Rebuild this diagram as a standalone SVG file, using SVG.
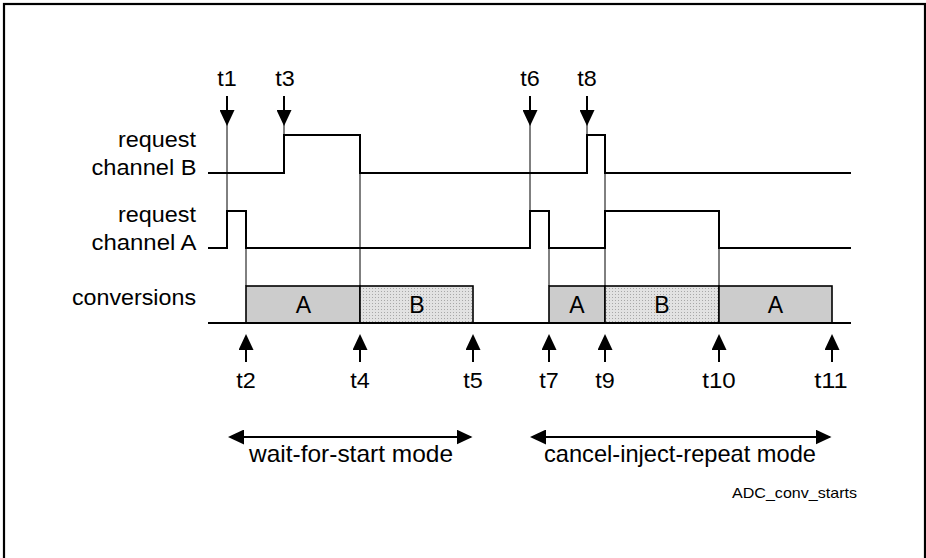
<svg xmlns="http://www.w3.org/2000/svg" width="926" height="558" viewBox="0 0 926 558">
<style>
.t{font-family:"Liberation Sans",Arial,sans-serif;font-size:22px;fill:#000}
.m{font-family:"Liberation Sans",Arial,sans-serif;font-size:24px;fill:#000}
.b{font-family:"Liberation Sans",Arial,sans-serif;font-size:23px;fill:#000}
.s{font-family:"Liberation Sans",Arial,sans-serif;font-size:14.5px;fill:#000}
.sig{fill:none;stroke:#000;stroke-width:2;stroke-linejoin:miter}
.thin{stroke:#000;stroke-width:1;fill:none}
.arr{stroke:#000;stroke-width:2;fill:none}
.boxA{fill:#cccccc;stroke:#000;stroke-width:1.6}
.boxB{fill:url(#dots);stroke:#000;stroke-width:1.6}
</style>
<defs>
<pattern id="dots" width="3" height="3" patternUnits="userSpaceOnUse">
<rect width="3" height="3" fill="#e2e2e2"/>
<rect width="1" height="1" fill="#a8a8a8"/>
</pattern>
<marker id="ah" viewBox="0 0 16 15" refX="14" refY="7.5" markerWidth="16" markerHeight="15" markerUnits="userSpaceOnUse" orient="auto-start-reverse">
<path d="M0,0 L16,7.5 L0,15 z" fill="#000"/>
</marker>
</defs>
<rect x="4" y="4" width="921" height="600" fill="#fff" stroke="#000" stroke-width="2.2"/>

<g id="labels">
<text class="t" x="196" y="147" text-anchor="end" textLength="78" lengthAdjust="spacingAndGlyphs">request</text>
<text class="t" x="196.5" y="175" text-anchor="end" textLength="105" lengthAdjust="spacingAndGlyphs">channel B</text>
<text class="t" x="196" y="222" text-anchor="end" textLength="78" lengthAdjust="spacingAndGlyphs">request</text>
<text class="t" x="196.5" y="250" text-anchor="end" textLength="105" lengthAdjust="spacingAndGlyphs">channel A</text>
<text class="t" x="196" y="305" text-anchor="end" textLength="124" lengthAdjust="spacingAndGlyphs">conversions</text>
</g>

<g id="signal-B">
<polyline class="sig" points="208,173 284,173 284,135 360,135 360,173 587,173 587,135 605,135 605,173 851,173"/>
</g>
<g id="signal-A">
<polyline class="sig" points="208,248 227,248 227,211 246,211 246,248 530,248 530,211 549,211 549,248 605,248 605,211 719,211 719,248 851,248"/>
</g>

<g id="conversions">
<rect class="boxA" x="246" y="286" width="114" height="37"/>
<rect class="boxB" x="360" y="286" width="113" height="37"/>
<rect class="boxA" x="549" y="286" width="56" height="37"/>
<rect class="boxB" x="605" y="286" width="114" height="37"/>
<rect class="boxA" x="719" y="286" width="113" height="37"/>
<line x1="208" y1="323" x2="851" y2="323" stroke="#000" stroke-width="2"/>
<text class="b" x="303.5" y="313" text-anchor="middle">A</text>
<text class="b" x="417" y="313" text-anchor="middle">B</text>
<text class="b" x="577" y="313" text-anchor="middle">A</text>
<text class="b" x="662" y="313" text-anchor="middle">B</text>
<text class="b" x="775.5" y="313" text-anchor="middle">A</text>
</g>

<g id="connectors">
<line class="thin" x1="227" y1="120" x2="227" y2="211"/>
<line class="thin" x1="284" y1="120" x2="284" y2="135"/>
<line class="thin" x1="530" y1="120" x2="530" y2="211"/>
<line class="thin" x1="587" y1="120" x2="587" y2="135"/>
<line class="thin" x1="246" y1="248" x2="246" y2="286"/>
<line class="thin" x1="360" y1="173" x2="360" y2="286"/>
<line class="thin" x1="549" y1="248" x2="549" y2="286"/>
<line class="thin" x1="605" y1="173" x2="605" y2="211"/>
<line class="thin" x1="605" y1="248" x2="605" y2="286"/>
<line class="thin" x1="719" y1="248" x2="719" y2="286"/>
<line class="arr" x1="227" y1="96" x2="227" y2="124" marker-end="url(#ah)"/>
<line class="arr" x1="284" y1="96" x2="284" y2="124" marker-end="url(#ah)"/>
<line class="arr" x1="530" y1="96" x2="530" y2="124" marker-end="url(#ah)"/>
<line class="arr" x1="587" y1="96" x2="587" y2="124" marker-end="url(#ah)"/>
<line class="arr" x1="246" y1="362" x2="246" y2="336" marker-end="url(#ah)"/>
<line class="arr" x1="360" y1="362" x2="360" y2="336" marker-end="url(#ah)"/>
<line class="arr" x1="473" y1="362" x2="473" y2="336" marker-end="url(#ah)"/>
<line class="arr" x1="549" y1="362" x2="549" y2="336" marker-end="url(#ah)"/>
<line class="arr" x1="605" y1="362" x2="605" y2="336" marker-end="url(#ah)"/>
<line class="arr" x1="719" y1="362" x2="719" y2="336" marker-end="url(#ah)"/>
<line class="arr" x1="832" y1="362" x2="832" y2="336" marker-end="url(#ah)"/>
<line class="arr" x1="230" y1="437" x2="470.5" y2="437" marker-start="url(#ah)" marker-end="url(#ah)"/>
<line class="arr" x1="532" y1="437" x2="829.5" y2="437" marker-start="url(#ah)" marker-end="url(#ah)"/>
</g>

<g id="time-labels">
<text class="t" x="227" y="86" text-anchor="middle" textLength="19.5" lengthAdjust="spacingAndGlyphs">t1</text>
<text class="t" x="285" y="86" text-anchor="middle" textLength="19.5" lengthAdjust="spacingAndGlyphs">t3</text>
<text class="t" x="530" y="86" text-anchor="middle" textLength="19.5" lengthAdjust="spacingAndGlyphs">t6</text>
<text class="t" x="587" y="86" text-anchor="middle" textLength="19.5" lengthAdjust="spacingAndGlyphs">t8</text>
<text class="t" x="246" y="388" text-anchor="middle" textLength="19.5" lengthAdjust="spacingAndGlyphs">t2</text>
<text class="t" x="360" y="388" text-anchor="middle" textLength="19.5" lengthAdjust="spacingAndGlyphs">t4</text>
<text class="t" x="473" y="388" text-anchor="middle" textLength="19.5" lengthAdjust="spacingAndGlyphs">t5</text>
<text class="t" x="549" y="388" text-anchor="middle" textLength="19.5" lengthAdjust="spacingAndGlyphs">t7</text>
<text class="t" x="605" y="388" text-anchor="middle" textLength="19.5" lengthAdjust="spacingAndGlyphs">t9</text>
<text class="t" x="719" y="388" text-anchor="middle" textLength="33.5" lengthAdjust="spacingAndGlyphs">t10</text>
<text class="t" x="831" y="388" text-anchor="middle" textLength="33.5" lengthAdjust="spacingAndGlyphs">t11</text>
</g>

<g id="modes">
<text class="m" x="351" y="462" text-anchor="middle" textLength="204" lengthAdjust="spacingAndGlyphs">wait-for-start mode</text>
<text class="m" x="680" y="462" text-anchor="middle" textLength="272" lengthAdjust="spacingAndGlyphs">cancel-inject-repeat mode</text>
</g>

<g id="caption">
<text class="s" x="732" y="498" textLength="125" lengthAdjust="spacingAndGlyphs">ADC_conv_starts</text>
</g>
</svg>
